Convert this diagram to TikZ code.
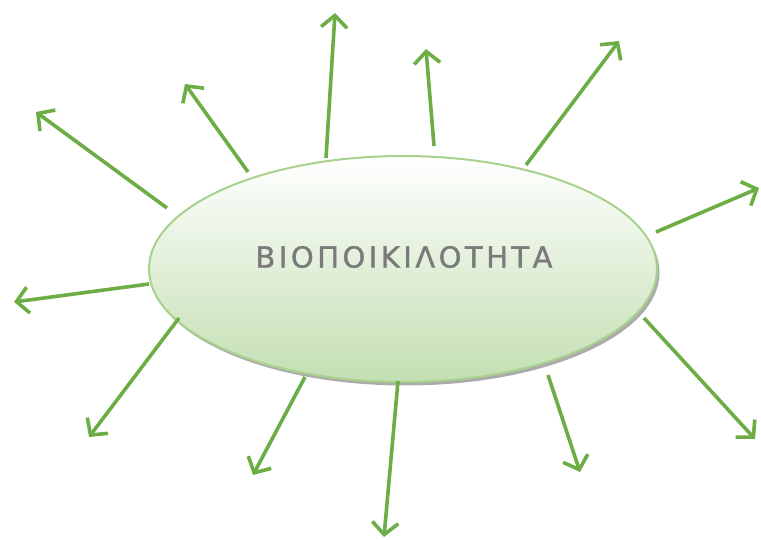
\documentclass[tikz,border=0pt]{standalone}
\usepackage{fontspec}
\usetikzlibrary{arrows.meta,shapes.geometric,shadows}
\newfontfamily\biofont[LetterSpace=12,FakeBold=1.2]{DejaVu Sans}
\definecolor{leaf}{HTML}{6CAD45}
\definecolor{rim}{HTML}{A9D18E}
\definecolor{pale}{HTML}{C3DFB2}
\definecolor{ink}{HTML}{7A7A7A}

\begin{document}
\begin{tikzpicture}[
 x=1pt, y=-1pt, >={Straight Barb[length=12pt,width=26pt]},
 hub/.style={ellipse, draw=rim, line width=2pt, inner sep=0pt,
   minimum width=508pt, minimum height=226pt,
   top color=white, bottom color=pale,
   drop shadow={shadow xshift=2.5pt, shadow yshift=-3.5pt, opacity=0.55, fill=black!60}},
 spoke/.style={draw=leaf, line width=3.6pt, ->}]
\useasboundingbox (0,0) rectangle (761,540);
\node[hub] (bio) at (403,269) {};
\node[font=\biofont\fontsize{29}{32}\selectfont, text=ink] (title) at (404,257) {ΒΙΟΠΟΙΚΙΛΟΤΗΤΑ};
% spokes: tail / head
\foreach \n/\tx/\ty/\hx/\hy in {1/167/208/36/112, 2/248/172/185/84, 3/326/158/335/13,
  4/434/146/426/49, 5/526/165/619/41, 6/656/232/759/188, 7/149/284/14/302,
  8/179/318/89/437, 9/305/377/253/475, 10/398/381/384/537, 11/548/375/580/472,
  12/644/318/755/439} {
  \coordinate (t\n) at (\tx,\ty);
  \coordinate (h\n) at (\hx,\hy);
  \draw[spoke] (t\n) -- (h\n);
}
\end{tikzpicture}
\end{document}
